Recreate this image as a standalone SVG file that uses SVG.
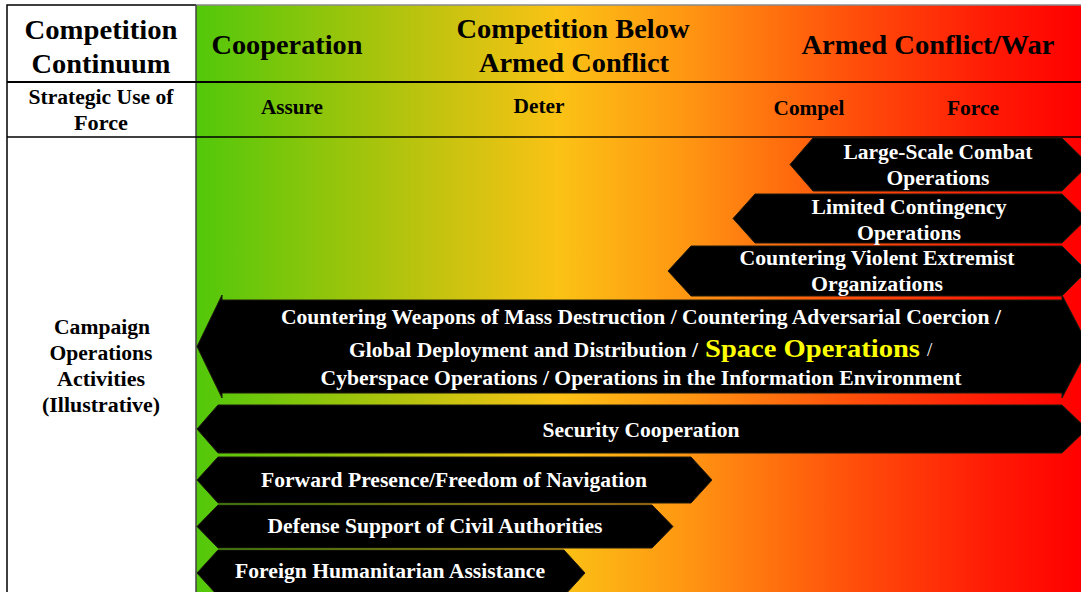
<svg xmlns="http://www.w3.org/2000/svg" width="1081" height="592" viewBox="0 0 1081 592" font-family="'Liberation Serif', 'Times New Roman', serif">
<defs>
<linearGradient id="bg" gradientUnits="userSpaceOnUse" x1="196" y1="0" x2="1081" y2="0">
<stop offset="0" stop-color="#52c80a"/>
<stop offset="0.2" stop-color="#a6c40c"/>
<stop offset="0.41" stop-color="#fbc215"/>
<stop offset="0.56" stop-color="#ff9412"/>
<stop offset="0.75" stop-color="#ff4c0a"/>
<stop offset="0.9" stop-color="#ff1a05"/>
<stop offset="1" stop-color="#ff0000"/>
</linearGradient>
<clipPath id="clip"><rect x="196" y="5" width="885" height="587"/></clipPath>
</defs>
<style>
text{font-family:'Liberation Serif','Times New Roman',serif;font-weight:bold}
.t{fill:#000;text-anchor:middle}
.w{fill:#fff;text-anchor:middle;font-size:21px}
.ws{fill:#fff;text-anchor:start;font-size:21px}
.arr{fill:#000;stroke:#1e1a10;stroke-width:1}
.h1{font-size:28px}
.h2{font-size:20px}
</style>
<rect x="0" y="0" width="1081" height="592" fill="#fff"/>
<rect x="196" y="5" width="885" height="587" fill="url(#bg)"/>
<g id="table">
<line x1="196" y1="5" x2="1081" y2="5" stroke="#8a8a8a" stroke-width="1.5"/>
<polyline points="7,592 7,5 196,5" fill="none" stroke="#000" stroke-width="1.5"/>
<line x1="196" y1="5" x2="196" y2="592" stroke="#444" stroke-width="1.5"/>
<line x1="7" y1="82" x2="1081" y2="82" stroke="#000" stroke-width="2"/>
<line x1="7" y1="137" x2="1081" y2="137" stroke="#000" stroke-width="1.5"/>
</g>
<g id="header">
<text class="t h1" x="101" y="39" textLength="153" lengthAdjust="spacingAndGlyphs">Competition</text>
<text class="t h1" x="101" y="73" textLength="139" lengthAdjust="spacingAndGlyphs">Continuum</text>
<text class="t h1" x="287" y="54" textLength="151" lengthAdjust="spacingAndGlyphs">Cooperation</text>
<text class="t h1" x="573" y="38" textLength="233" lengthAdjust="spacingAndGlyphs">Competition Below</text>
<text class="t h1" x="574" y="72" textLength="190" lengthAdjust="spacingAndGlyphs">Armed Conflict</text>
<text class="t h1" x="928" y="54" textLength="253" lengthAdjust="spacingAndGlyphs">Armed Conflict/War</text>
<text class="t h2" x="101" y="104" textLength="145" lengthAdjust="spacingAndGlyphs">Strategic Use of</text>
<text class="t h2" x="101" y="130" textLength="54" lengthAdjust="spacingAndGlyphs">Force</text>
<text class="t h2" x="292" y="114" textLength="62" lengthAdjust="spacingAndGlyphs">Assure</text>
<text class="t h2" x="539" y="113" textLength="51" lengthAdjust="spacingAndGlyphs">Deter</text>
<text class="t h2" x="809" y="115" textLength="71" lengthAdjust="spacingAndGlyphs">Compel</text>
<text class="t h2" x="973" y="115" textLength="52" lengthAdjust="spacingAndGlyphs">Force</text>
<text class="t h2" x="102" y="334" textLength="96" lengthAdjust="spacingAndGlyphs">Campaign</text>
<text class="t h2" x="101" y="360" textLength="103" lengthAdjust="spacingAndGlyphs">Operations</text>
<text class="t h2" x="101" y="386" textLength="88" lengthAdjust="spacingAndGlyphs">Activities</text>
<text class="t h2" x="101" y="412" textLength="118" lengthAdjust="spacingAndGlyphs">(Illustrative)</text>
</g>
<g id="arrows" clip-path="url(#clip)">
<g id="lsco">
<polygon class="arr" points="790,164.5 813,138 1062,138 1089,164.5 1062,191 813,191"/>
<text class="w" x="938" y="159" textLength="189" lengthAdjust="spacingAndGlyphs">Large-Scale Combat</text>
<text class="w" x="938" y="185" textLength="103" lengthAdjust="spacingAndGlyphs">Operations</text>
</g>
<g id="lco">
<polygon class="arr" points="733,218.5 755,194 1062,194 1087,218.5 1062,243 755,243"/>
<text class="w" x="909" y="214" textLength="195" lengthAdjust="spacingAndGlyphs">Limited Contingency</text>
<text class="w" x="909" y="240" textLength="104" lengthAdjust="spacingAndGlyphs">Operations</text>
</g>
<g id="cveo">
<polygon class="arr" points="668,271 691,246 1062,246 1087,271 1062,296 691,296"/>
<text class="w" x="877" y="265" textLength="275" lengthAdjust="spacingAndGlyphs">Countering Violent Extremist</text>
<text class="w" x="877" y="291" textLength="132" lengthAdjust="spacingAndGlyphs">Organizations</text>
</g>
<g id="cwmd">
<polygon class="arr" points="197,346.5 222,295 222,300 1062,300 1062,295 1089,346.5 1062,398 1062,393 222,393 222,398"/>
<text class="w" x="641" y="324" textLength="720" lengthAdjust="spacingAndGlyphs">Countering Weapons of Mass Destruction / Countering Adversarial Coercion /</text>
<text class="ws" x="349" y="357" textLength="349" lengthAdjust="spacingAndGlyphs">Global Deployment and Distribution /</text>
<text class="ws" x="705" y="357" fill="#ffff00" style="fill:#ffff00;font-size:26px" textLength="215" lengthAdjust="spacingAndGlyphs">Space Operations</text>
<text class="ws" x="927" y="356" style="font-weight:normal;font-size:19px">/</text>
<text class="w" x="641" y="385" textLength="641" lengthAdjust="spacingAndGlyphs">Cyberspace Operations / Operations in the Information Environment</text>
</g>
<g id="sc">
<polygon class="arr" points="197,429 218,405 1062,405 1087,429 1062,453 218,453"/>
<text class="w" x="641" y="437" textLength="197" lengthAdjust="spacingAndGlyphs">Security Cooperation</text>
</g>
<g id="fp">
<polygon class="arr" points="197,480 218,457 691,457 712,480 691,503 218,503"/>
<text class="w" x="454" y="487" textLength="386" lengthAdjust="spacingAndGlyphs">Forward Presence/Freedom of Navigation</text>
</g>
<g id="dsca">
<polygon class="arr" points="197,526.5 218,505 652,505 673,526.5 652,548 218,548"/>
<text class="w" x="435" y="533" textLength="335" lengthAdjust="spacingAndGlyphs">Defense Support of Civil Authorities</text>
</g>
<g id="fha">
<polygon class="arr" points="197,573 218,550 564,550 585,573 564,596 218,596"/>
<text class="w" x="390" y="578" textLength="310" lengthAdjust="spacingAndGlyphs">Foreign Humanitarian Assistance</text>
</g>
</g>
</svg>
